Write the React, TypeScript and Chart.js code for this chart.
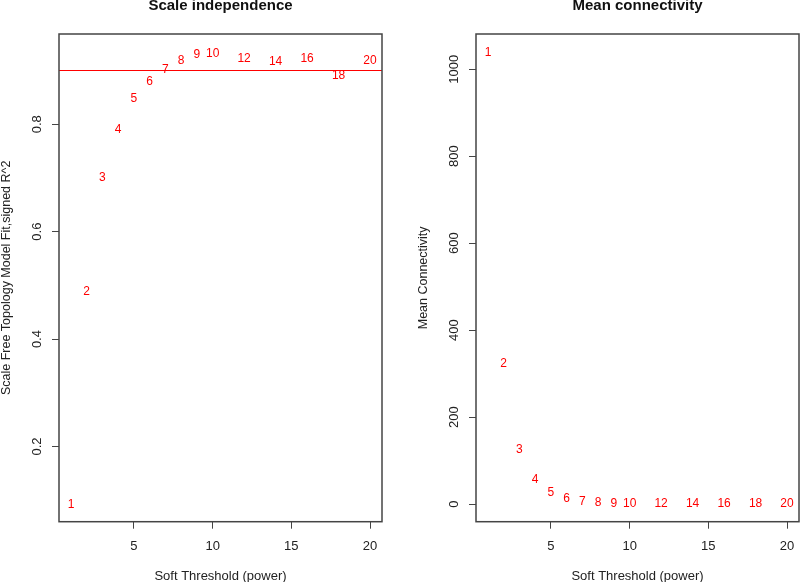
import React, { useEffect, useRef } from "react";
import { Chart, registerables } from "chart.js";

Chart.register(...registerables);

// ---- data ----
const POWERS = [1, 2, 3, 4, 5, 6, 7, 8, 9, 10, 12, 14, 16, 18, 20];
const SCALE_FREE_R2 = [0.091, 0.488, 0.7, 0.789, 0.847, 0.879, 0.902, 0.919, 0.93, 0.932, 0.922, 0.917, 0.922, 0.891, 0.918];
const MEAN_CONNECTIVITY = [1037, 323, 125, 55, 27, 13, 6.5, 3.5, 1.2, 1.5, 0.5, 0.4, 0.4, 0.3, 0.3];
const R2_CUTOFF = 0.9;
const X_TICKS = [5, 10, 15, 20];
const R2_TICKS = [0.2, 0.4, 0.6, 0.8];
const K_TICKS = [0, 200, 400, 600, 800, 1000];

const FONT = '"Liberation Sans", Arial, Helvetica, sans-serif';

const rDecor = {
  id: "rDecor",
  afterDraw(chart: any, _args: any, o: any) {
    const { ctx, chartArea: a, scales } = chart;
    ctx.save();
    // cutoff line
    if (o.cutoff != null) {
      const y = scales.y.getPixelForValue(o.cutoff);
      ctx.strokeStyle = "#ff0000";
      ctx.lineWidth = 1.2;
      ctx.beginPath();
      ctx.moveTo(a.left, y);
      ctx.lineTo(a.right, y);
      ctx.stroke();
    }
    // point labels (R text())
    const meta = chart.getDatasetMeta(0);
    const ds = chart.data.datasets[0].data;
    ctx.fillStyle = "#ff0000";
    ctx.font = `12px ${FONT}`;
    ctx.textAlign = "center";
    ctx.textBaseline = "middle";
    meta.data.forEach((pt: any, i: number) => {
      ctx.fillText(String(ds[i].x), pt.x, pt.y);
    });
    // box
    ctx.strokeStyle = "#444";
    ctx.lineWidth = 1.5;
    ctx.strokeRect(a.left, a.top, a.right - a.left, a.bottom - a.top);
    // y tick labels, rotated
    ctx.fillStyle = "#222";
    ctx.font = `13px ${FONT}`;
    (o.yTicks || []).forEach((v: number) => {
      const y = scales.y.getPixelForValue(v);
      ctx.save();
      ctx.translate(a.left - 22, y);
      ctx.rotate(-Math.PI / 2);
      ctx.textAlign = "center";
      ctx.textBaseline = "middle";
      ctx.fillText(String(v), 0, 0);
      ctx.restore();
    });
    // y axis title
    ctx.save();
    ctx.translate(a.left - 52, (a.top + a.bottom) / 2);
    ctx.rotate(-Math.PI / 2);
    ctx.textAlign = "center";
    ctx.textBaseline = "middle";
    ctx.font = `12.5px ${FONT}`;
    ctx.fillText(o.yTitle, 0, 0);
    ctx.restore();
    // x axis title
    ctx.textAlign = "center";
    ctx.textBaseline = "middle";
    ctx.font = `13px ${FONT}`;
    ctx.fillText(o.xTitle, (a.left + a.right) / 2, 576);
    // main title
    ctx.fillStyle = "#111";
    ctx.font = `bold 15px ${FONT}`;
    ctx.textBaseline = "alphabetic";
    ctx.fillText(o.title, (a.left + a.right) / 2, 9.5);
    ctx.restore();
  },
};

function makeConfig(p: {
  values: number[];
  yMin: number;
  yMax: number;
  yTicks: number[];
  yWidth: number;
  padRight: number;
  title: string;
  yTitle: string;
  cutoff?: number;
}): any {
  const grid = {
    display: true,
    drawOnChartArea: false,
    drawTicks: true,
    tickLength: 7,
    color: "#444",
    lineWidth: 1,
  };
  return {
    type: "scatter",
    data: {
      datasets: [
        {
          data: POWERS.map((x, i) => ({ x, y: p.values[i] })),
          pointRadius: 0,
          pointHoverRadius: 0,
          showLine: false,
        },
      ],
    },
    plugins: [rDecor],
    options: {
      animation: false,
      responsive: false,
      devicePixelRatio: 1,
      events: [],
      layout: { padding: { top: 34, right: p.padRight, left: 0, bottom: 0 } },
      plugins: {
        legend: { display: false },
        tooltip: { enabled: false },
        title: { display: false },
        rDecor: {
          cutoff: p.cutoff,
          yTicks: p.yTicks,
          title: p.title,
          yTitle: p.yTitle,
          xTitle: "Soft Threshold (power)",
        },
      },
      scales: {
        x: {
          type: "linear",
          min: 0.24,
          max: 20.76,
          afterBuildTicks: (s: any) => {
            s.ticks = X_TICKS.map((v) => ({ value: v }));
          },
          afterFit: (s: any) => {
            s.height = 60.3;
            s.paddingLeft = 0;
            s.paddingRight = 0;
          },
          grid,
          border: { display: false },
          ticks: {
            font: { family: FONT, size: 13 },
            color: "#222",
            padding: 10,
            maxRotation: 0,
            autoSkip: false,
          },
        },
        y: {
          type: "linear",
          min: p.yMin,
          max: p.yMax,
          afterBuildTicks: (s: any) => {
            s.ticks = p.yTicks.map((v) => ({ value: v }));
          },
          afterFit: (s: any) => {
            s.width = p.yWidth;
            s.paddingTop = 0;
            s.paddingBottom = 0;
          },
          grid,
          border: { display: false },
          ticks: { display: false },
        },
      },
    },
  };
}

function Panel(props: { left: number; config: any }) {
  const ref = useRef<HTMLCanvasElement | null>(null);
  useEffect(() => {
    if (!ref.current) return;
    const chart = new Chart(ref.current, props.config);
    return () => chart.destroy();
  }, []);
  return (
    <canvas
      ref={ref}
      width={400}
      height={582}
      style={{ position: "absolute", left: props.left, top: 0, width: 400, height: 582, display: "block" }}
    />
  );
}

export default function App() {
  const leftCfg = makeConfig({
    values: SCALE_FREE_R2,
    yMin: 0.06,
    yMax: 0.968,
    yTicks: R2_TICKS,
    yWidth: 59,
    padRight: 18,
    title: "Scale independence",
    yTitle: "Scale Free Topology Model Fit,signed R^2",
    cutoff: R2_CUTOFF,
  });
  const rightCfg = makeConfig({
    values: MEAN_CONNECTIVITY,
    yMin: -40.6,
    yMax: 1081,
    yTicks: K_TICKS,
    yWidth: 76,
    padRight: 1,
    title: "Mean connectivity",
    yTitle: "Mean Connectivity",
  });
  return (
    <div style={{ position: "absolute", left: 0, top: 0, width: 800, height: 582, background: "#fff", overflow: "hidden" }}>
      <Panel left={0} config={leftCfg} />
      <Panel left={400} config={rightCfg} />
    </div>
  );
}
